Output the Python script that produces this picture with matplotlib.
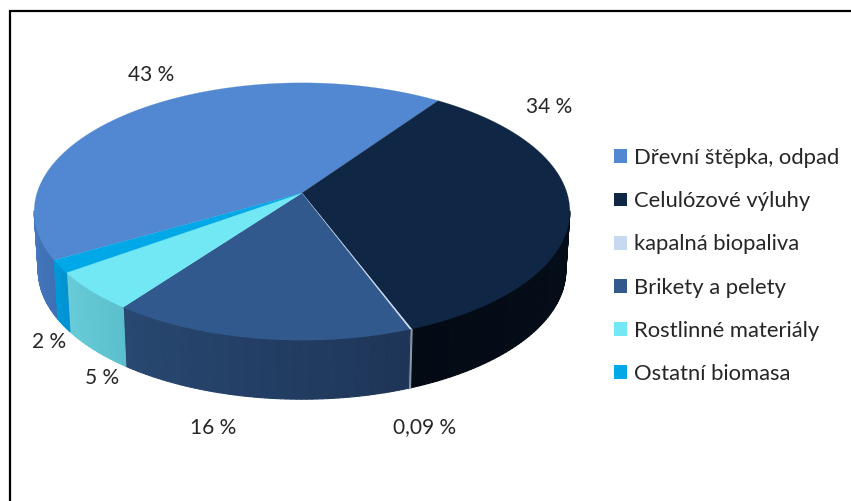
"""Perspective 3D pie of biomass fuel shares, drawn from the shares through a projected circle."""
import numpy as np
import matplotlib
matplotlib.use("Agg")
import matplotlib.pyplot as plt
from matplotlib.collections import PolyCollection
from matplotlib.colors import to_rgb
from matplotlib.patches import Patch, Polygon

plt.rcParams["font.family"] = ["Lato", "DejaVu Sans"]

categories = ["Dřevní štěpka, odpad", "Celulózové výluhy", "kapalná biopaliva",
              "Brikety a pelety", "Rostlinné materiály", "Ostatní biomasa"]
values = [43.2, 34.6, 0.09, 16, 5, 1.6]   # slice sizes
value_labels = ["43 %", "34 %", "0,09 %", "16 %", "5 %", "2 %"]

TOP = ["#5288d1", "#0f2644", "#c6d9f1", "#31598e", "#72e8f4", "#00a8e8"]
SIDE_A = ["#3f6fb4", "#050e1a", "#8a98aa", "#1e3557", "#5cc0cc", "#0092d2"]   # clockwise start
SIDE_B = ["#4678bd", "#030a14", "#8a98aa", "#284871", "#68ccd8", "#0098d8"]   # clockwise end
LABEL_XY = [(151, 75), (549, 107), (425, 427), (213, 428), (102, 378), (49, 342)]

START = 209.7      # deg, where the first slice begins (slices run clockwise)
X0, Y0 = 302, 193  # apex of the top face (px)
RX, RY = 265, 126  # projected radii
K = 0.144          # perspective foreshortening
DEPTH = 59         # pie thickness (px)
TEXT = "#262626"


def project(deg, r=1.0, dy=0.0, sx=1.0):
    a = np.radians(deg)
    u, v = r * np.cos(a), r * np.sin(a)
    w = 1 + K * v
    return np.column_stack([X0 + sx * RX * u / w, Y0 + dy - RY * v / w])


def main():
    fig = plt.figure(figsize=(8.51, 5.01), dpi=100)
    ax = fig.add_axes([0, 0, 1, 1])
    ax.set_xlim(0, 851); ax.set_ylim(501, 0); ax.axis("off")

    # frame
    ax.plot([9.5, 9.5, 851], [501, 11, 11], color="black", lw=1.6, solid_joinstyle="miter")

    shares = np.array(values, float) / sum(values) * 360
    ends = START - np.cumsum(shares)
    starts = ends + shares
    front_lo, front_hi = -172.0, -8.0

    # side wall, only where it faces the viewer
    for i in range(len(values)):
        a0 = (starts[i] + 180) % 360 - 180
        a1 = a0 - shares[i]
        hi, lo = min(a0, front_hi), max(a1, front_lo)
        if hi <= lo:
            continue
        t = np.linspace(hi, lo, max(2, int(hi - lo) + 2))
        upper, lower = project(t), project(t, dy=DEPTH, sx=0.985)
        polys = [[upper[j], upper[j + 1], lower[j + 1], lower[j]] for j in range(len(t) - 1)]
        f = np.linspace(0, 1, len(polys))[:, None]
        cols = (1 - f) * np.array(to_rgb(SIDE_A[i])) + f * np.array(to_rgb(SIDE_B[i]))
        ax.add_collection(PolyCollection(polys, facecolors=cols, edgecolors=cols, linewidths=0.8, zorder=2))

    # top faces, thin slice last so it stays visible
    for i in np.argsort(-shares):
        t = np.linspace(starts[i], ends[i], max(2, int(shares[i]) * 2 + 2))
        pts = np.vstack([[X0, Y0], project(t)])
        ax.add_patch(Polygon(pts, closed=True, fc=TOP[i], ec=TOP[i], lw=0.15, zorder=3))

    for txt, (x, y) in zip(value_labels, LABEL_XY):
        ax.text(x, y, txt, ha="center", va="center", fontsize=15, color=TEXT, zorder=4)

    handles = [Patch(fc=c, ec="none", label=n) for c, n in zip(TOP, categories)]
    ax.legend(handles=handles, loc="center left", bbox_to_anchor=(614 / 851, 1 - 266 / 501),
              frameon=False, fontsize=15.8, labelcolor=TEXT, handlelength=0.59, handleheight=0.59,
              handletextpad=0.32, labelspacing=1.055, borderpad=0, borderaxespad=0)

    fig.savefig("out.png", dpi=100, facecolor="white")


if __name__ == "__main__":
    main()
